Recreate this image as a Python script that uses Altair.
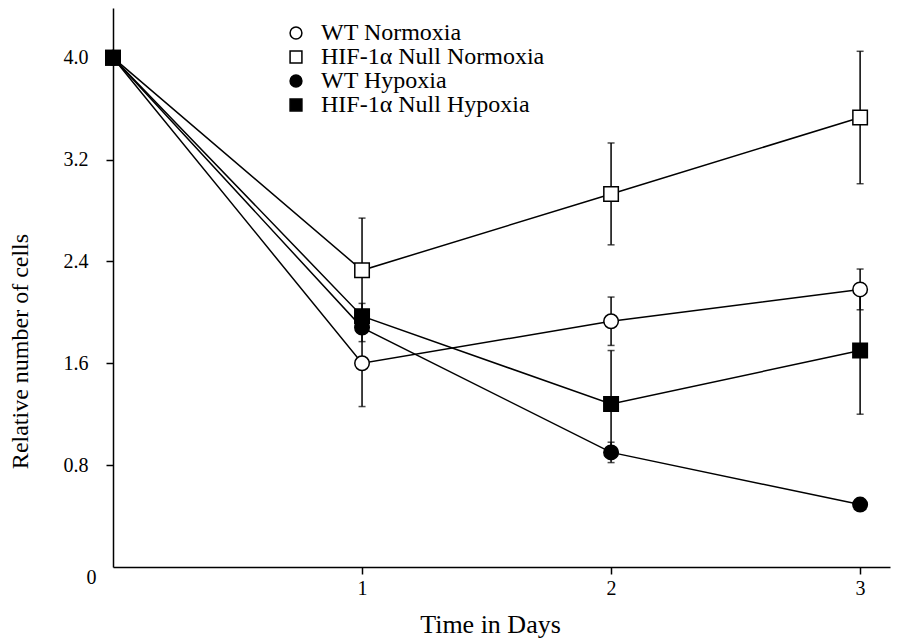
import altair as alt
import pandas as pd

days = [0, 1, 2, 3]
series_names = ["WT Normoxia", "HIF-1α Null Normoxia", "WT Hypoxia", "HIF-1α Null Hypoxia"]

wt_normoxia = [4.0, 1.60, 1.93, 2.18]
wt_normoxia_err = [0.0, 0.34, 0.19, 0.16]
hif_null_normoxia = [4.0, 2.33, 2.93, 3.53]
hif_null_normoxia_err = [0.0, 0.41, 0.40, 0.52]
wt_hypoxia = [4.0, 1.88, 0.90, 0.49]
wt_hypoxia_err = [0.0, 0.11, 0.08, 0.03]
hif_null_hypoxia = [4.0, 1.97, 1.28, 1.70]
hif_null_hypoxia_err = [0.0, 0.10, 0.42, 0.50]

fills = ["white", "white", "black", "black"]
shapes = ["circle", "square", "circle", "square"]
strokes = ["black", "black", "black", "black"]

y_ticks = [0, 0.8, 1.6, 2.4, 3.2, 4.0]
x_ticks = [1, 2, 3]

# drawing order (last drawn on top): WT Hypoxia on top at day 0
draw_order = [0, 1, 3, 2]
all_vals = [wt_normoxia, hif_null_normoxia, wt_hypoxia, hif_null_hypoxia]
all_errs = [wt_normoxia_err, hif_null_normoxia_err, wt_hypoxia_err, hif_null_hypoxia_err]

rows = []
for i in draw_order:
    for d, v, e in zip(days, all_vals[i], all_errs[i]):
        rows.append({"day": d, "series": series_names[i], "value": v, "lo": v - e, "hi": v + e})
df = pd.DataFrame(rows)

FONT = "Liberation Serif"

xscale = alt.Scale(domain=[0, 3.12], nice=False, zero=False)
yscale = alt.Scale(domain=[0, 4.39], nice=False, zero=False)

x_axis = alt.Axis(
    values=x_ticks, title="Time in Days", format="d",
    tickSize=7, labelPadding=4, labelFontSize=20,
    titleFontSize=26, titleX=377, titleY=44, titleBaseline="top",
)
y_axis = alt.Axis(
    values=y_ticks, title="Relative number of cells",
    labelExpr="datum.value == 0 ? '0' : format(datum.value, '.1f')",
    labelBaseline=alt.condition("datum.value == 0", alt.value("top"), alt.value("middle")),
    labelPadding=alt.condition("datum.value == 0", alt.value(10), alt.value(18)),
    tickOpacity=alt.condition("datum.value == 0", alt.value(0), alt.value(1)),
    tickSize=7, labelFontSize=20,
    titleFontSize=24, titleX=-81, titleY=343,
)

legend = alt.Legend(
    orient="none", legendX=171, legendY=13, title=None,
    labelFont=FONT, labelFontSize=24, labelColor="black", labelLimit=0,
    symbolSize=140, symbolStrokeColor="black", symbolStrokeWidth=1.5,
    labelOffset=13, rowPadding=0, padding=0,
)

base = alt.Chart(df)
X = alt.X("day:Q", scale=xscale, axis=x_axis)

lines = base.mark_line(color="black", strokeWidth=1.5).encode(
    x=X,
    y=alt.Y("value:Q", scale=yscale, axis=y_axis),
    detail="series:N",
    order="day:Q",
)

rules = base.mark_rule(color="black", strokeWidth=1.5).encode(
    x=X,
    y=alt.Y("lo:Q", scale=yscale, axis=y_axis),
    y2="hi:Q",
)

caps_lo = base.mark_tick(color="black", orient="horizontal", size=7, thickness=1.5).encode(
    x=X,
    y=alt.Y("lo:Q", scale=yscale, axis=y_axis),
)
caps_hi = base.mark_tick(color="black", orient="horizontal", size=7, thickness=1.5).encode(
    x=X,
    y=alt.Y("hi:Q", scale=yscale, axis=y_axis),
)

points = base.mark_point(filled=True, strokeWidth=1.5, size=210, opacity=1).encode(
    x=X,
    y=alt.Y("value:Q", scale=yscale, axis=y_axis),
    fill=alt.Fill("series:N", scale=alt.Scale(domain=series_names, range=fills), legend=legend),
    shape=alt.Shape("series:N", scale=alt.Scale(domain=series_names, range=shapes), legend=legend),
    stroke=alt.Stroke("series:N", scale=alt.Scale(domain=series_names, range=strokes), legend=legend),
)

chart = (
    alt.layer(lines, rules, caps_lo, caps_hi, points)
    .properties(
        width=777, height=559, autosize="none",
        padding={"left": 105, "top": 0, "right": 1, "bottom": 75},
        background="white",
    )
    .configure_view(stroke=None)
    .configure_axis(
        grid=False, domainColor="black", domainWidth=1.5,
        tickColor="black", tickWidth=1.5,
        labelFont=FONT, titleFont=FONT, labelColor="black", titleColor="black",
        titleFontWeight="normal",
    )
)

chart.save("out.html", embed_options={"renderer": "svg", "actions": False})
